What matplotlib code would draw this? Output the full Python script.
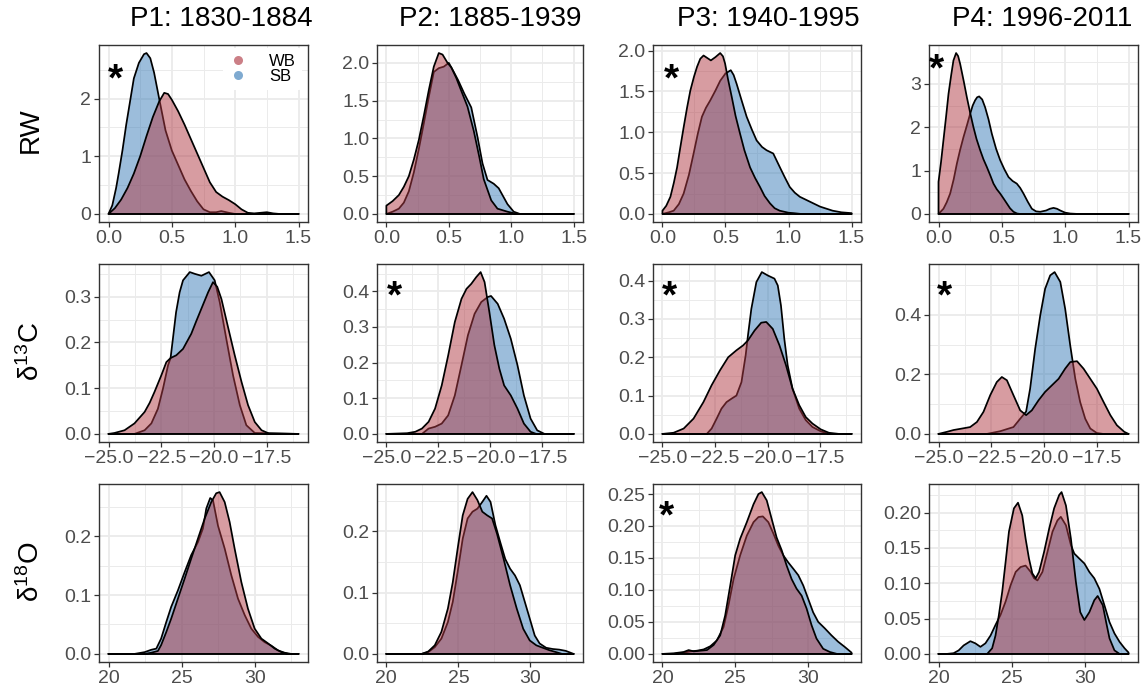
import numpy as np
import matplotlib
matplotlib.use("Agg")
import matplotlib.pyplot as plt
from matplotlib.lines import Line2D
from matplotlib.colors import to_rgba

plt.rcParams['font.family'] = ['Liberation Sans', 'DejaVu Sans']
plt.rcParams['mathtext.fontset'] = 'custom'
plt.rcParams['mathtext.rm'] = 'Liberation Sans'
plt.rcParams['mathtext.it'] = 'Liberation Sans:italic'
plt.rcParams['mathtext.bf'] = 'Liberation Sans:bold'

# ---------------------------------------------------------------------------
# Categories
# ---------------------------------------------------------------------------
periods = ["P1: 1830-1884", "P2: 1885-1939", "P3: 1940-1995", "P4: 1996-2011"]
variables = ["RW", "d13C", "d18O"]
row_labels = ["RW", "δ$^{13}$C", "δ$^{18}$O"]
groups = ["WB", "SB"]

# x range over which each density was evaluated
x_from = [0.0, -25.0, 20.0]
x_to = [1.5, -16.0, 33.0]
x_breaks = [[0.0, 0.5, 1.0, 1.5], [-25.0, -22.5, -20.0, -17.5], [20, 25, 30]]
x_break_labels = [["0.0", "0.5", "1.0", "1.5"],
                  ["\u221225.0", "\u221222.5", "\u221220.0", "\u221217.5"],
                  ["20", "25", "30"]]

# significant WB/SB difference per variable (rows) and period (columns)
significant = [[True, False, True, True],
               [False, True, True, True],
               [False, False, True, False]]

# ---------------------------------------------------------------------------
# Kernel density estimates, (x, density) pairs
# ---------------------------------------------------------------------------
# Ring width (RW)
rw_p1_wb = [(0, 0), (0.05, 0.1), (0.10, 0.25), (0.15, 0.45), (0.20, 0.7), (0.25, 1.0), (0.30, 1.35),
            (0.35, 1.68), (0.40, 1.95), (0.44, 2.1), (0.47, 2.08), (0.50, 1.98), (0.55, 1.78), (0.60, 1.55),
            (0.65, 1.3), (0.70, 1.05), (0.75, 0.8), (0.80, 0.55), (0.85, 0.38), (0.90, 0.3), (0.95, 0.24),
            (1.00, 0.17), (1.05, 0.08), (1.10, 0.02), (1.15, 0.01), (1.20, 0.02), (1.25, 0.03), (1.30, 0.01),
            (1.35, 0.0), (1.5, 0.0)]
rw_p1_sb = [(0, 0), (0.03, 0.15), (0.06, 0.45), (0.08, 0.7), (0.11, 1.1), (0.14, 1.55), (0.17, 1.95),
            (0.20, 2.35), (0.24, 2.62), (0.28, 2.77), (0.30, 2.79), (0.33, 2.7), (0.36, 2.45), (0.40, 2.0),
            (0.45, 1.45), (0.50, 1.1), (0.55, 0.85), (0.60, 0.6), (0.65, 0.4), (0.70, 0.22), (0.75, 0.08),
            (0.80, 0.03), (0.85, 0.03), (0.89, 0.05), (0.95, 0.02), (1.0, 0.0), (1.5, 0.0)]
rw_p2_wb = [(0, 0.11), (0.05, 0.17), (0.10, 0.25), (0.14, 0.36), (0.18, 0.5), (0.22, 0.72), (0.26, 0.98),
            (0.30, 1.3), (0.34, 1.64), (0.38, 1.95), (0.42, 2.13), (0.45, 2.11), (0.49, 2.0), (0.52, 1.94),
            (0.56, 1.8), (0.60, 1.63), (0.65, 1.42), (0.70, 1.1), (0.745, 0.75), (0.78, 0.46), (0.84, 0.18),
            (0.89, 0.07), (0.97, 0.03), (1.02, 0.01), (1.06, 0.0), (1.5, 0.0)]
rw_p2_sb = [(0, 0.0), (0.05, 0.03), (0.10, 0.07), (0.14, 0.15), (0.18, 0.3), (0.22, 0.55), (0.26, 0.86),
            (0.30, 1.2), (0.34, 1.55), (0.38, 1.88), (0.42, 1.93), (0.46, 1.95), (0.50, 2.0), (0.54, 1.88),
            (0.575, 1.77), (0.625, 1.59), (0.68, 1.41), (0.73, 1.02), (0.77, 0.67), (0.81, 0.45), (0.86, 0.4),
            (0.90, 0.34), (0.94, 0.22), (0.97, 0.13), (1.02, 0.03), (1.07, 0.0), (1.5, 0.0)]
rw_p3_wb = [(0, 0.04), (0.03, 0.1), (0.063, 0.21), (0.09, 0.38), (0.116, 0.57), (0.14, 0.8), (0.168, 1.06),
            (0.195, 1.3), (0.221, 1.51), (0.25, 1.68), (0.274, 1.8), (0.30, 1.9), (0.326, 1.94), (0.355, 1.91),
            (0.384, 1.88), (0.42, 1.92), (0.458, 1.97), (0.48, 1.93), (0.497, 1.84), (0.52, 1.65), (0.55, 1.43),
            (0.58, 1.2), (0.616, 0.98), (0.65, 0.78), (0.695, 0.57), (0.735, 0.44), (0.774, 0.33), (0.81, 0.22),
            (0.853, 0.13), (0.89, 0.07), (0.93, 0.04), (1.0, 0.015), (1.04, 0.01), (1.1, 0.0), (1.5, 0.0)]
rw_p3_sb = [(0, 0.0), (0.05, 0.02), (0.089, 0.04), (0.13, 0.12), (0.168, 0.25), (0.21, 0.48), (0.247, 0.74),
            (0.28, 0.98), (0.313, 1.19), (0.345, 1.3), (0.379, 1.39), (0.42, 1.51), (0.458, 1.63), (0.50, 1.72),
            (0.542, 1.76), (0.565, 1.7), (0.589, 1.59), (0.63, 1.38), (0.668, 1.19), (0.71, 1.03), (0.747, 0.9),
            (0.79, 0.82), (0.826, 0.78), (0.879, 0.74), (0.932, 0.57), (0.97, 0.45), (1.01, 0.33), (1.05, 0.26),
            (1.09, 0.21), (1.17, 0.15), (1.25, 0.09), (1.35, 0.04), (1.42, 0.02), (1.5, 0.01)]
rw_p4_wb = [(0, 0.74), (0.02, 1.2), (0.039, 1.7), (0.06, 2.25), (0.079, 2.77), (0.10, 3.2), (0.118, 3.54),
            (0.139, 3.71), (0.155, 3.64), (0.171, 3.46), (0.20, 3.05), (0.224, 2.69), (0.25, 2.33), (0.276, 2.0),
            (0.30, 1.73), (0.329, 1.47), (0.355, 1.26), (0.382, 1.08), (0.41, 0.88), (0.434, 0.7), (0.46, 0.57),
            (0.487, 0.47), (0.515, 0.35), (0.54, 0.24), (0.565, 0.13), (0.592, 0.05), (0.62, 0.01), (0.645, 0.0),
            (1.5, 0.0)]
rw_p4_sb = [(0, 0.0), (0.039, 0.12), (0.065, 0.27), (0.092, 0.47), (0.12, 0.8), (0.145, 1.16), (0.17, 1.47),
            (0.197, 1.77), (0.225, 2.05), (0.25, 2.31), (0.27, 2.5), (0.289, 2.62), (0.305, 2.69), (0.321, 2.71),
            (0.345, 2.64), (0.368, 2.46), (0.395, 2.18), (0.421, 1.85), (0.455, 1.5), (0.487, 1.24), (0.52, 1.03),
            (0.553, 0.85), (0.585, 0.76), (0.618, 0.7), (0.645, 0.6), (0.671, 0.47), (0.705, 0.28), (0.737, 0.12),
            (0.77, 0.06), (0.803, 0.05), (0.85, 0.08), (0.88, 0.12), (0.908, 0.14), (0.935, 0.12), (0.961, 0.08),
            (1.0, 0.03), (1.04, 0.01), (1.1, 0.0), (1.5, 0.0)]

# Carbon isotope ratio (d13C)
c13_p1_wb = [(-25, 0), (-24.72, 0.002), (-24.24, 0.008), (-23.77, 0.023), (-23.29, 0.048), (-23.05, 0.068),
             (-22.82, 0.092), (-22.5, 0.128), (-22.26, 0.157), (-22.06, 0.166), (-21.79, 0.172), (-21.47, 0.186),
             (-21.08, 0.219), (-20.84, 0.247), (-20.6, 0.274), (-20.28, 0.31), (-20.05, 0.332), (-19.85, 0.322),
             (-19.65, 0.295), (-19.34, 0.234), (-19.02, 0.172), (-18.7, 0.114), (-18.39, 0.063), (-18.07, 0.026),
             (-17.75, 0.008), (-17.4, 0.001), (-16, 0)]
c13_p1_sb = [(-25, 0), (-23.77, 0.0), (-23.29, 0.008), (-22.97, 0.023), (-22.66, 0.055), (-22.42, 0.099),
             (-22.18, 0.15), (-22.06, 0.166), (-21.95, 0.208), (-21.8, 0.266), (-21.63, 0.31), (-21.47, 0.336),
             (-21.15, 0.354), (-20.9, 0.35), (-20.6, 0.346), (-20.24, 0.354), (-19.97, 0.336), (-19.73, 0.288),
             (-19.42, 0.208), (-19.1, 0.128), (-18.78, 0.063), (-18.47, 0.019), (-18.07, 0.002), (-16, 0)]
c13_p2_wb = [(-25, 0), (-24.0, 0.002), (-23.61, 0.006), (-23.29, 0.015), (-22.97, 0.034), (-22.66, 0.071),
             (-22.34, 0.136), (-22.03, 0.22), (-21.71, 0.314), (-21.39, 0.379), (-21.15, 0.407), (-20.92, 0.421),
             (-20.68, 0.44), (-20.47, 0.454), (-20.28, 0.426), (-20.05, 0.342), (-19.81, 0.249), (-19.57, 0.183),
             (-19.34, 0.136), (-19.02, 0.108), (-18.7, 0.071), (-18.39, 0.029), (-18.07, 0.006), (-17.8, 0),
             (-16, 0)]
c13_p2_sb = [(-25, 0), (-23.29, 0.0), (-22.97, 0.015), (-22.66, 0.02), (-22.34, 0.029), (-22.03, 0.052),
             (-21.71, 0.108), (-21.39, 0.193), (-21.08, 0.277), (-20.76, 0.337), (-20.44, 0.37), (-20.13, 0.384),
             (-19.97, 0.387), (-19.65, 0.365), (-19.34, 0.323), (-19.02, 0.267), (-18.7, 0.193), (-18.39, 0.108),
             (-18.07, 0.043), (-17.75, 0.01), (-17.4, 0), (-16, 0)]
c13_p3_wb = [(-25, 0), (-24.47, 0.003), (-23.99, 0.014), (-23.52, 0.04), (-23.05, 0.083), (-22.66, 0.127),
             (-22.26, 0.166), (-21.87, 0.2), (-21.48, 0.218), (-21.16, 0.231), (-20.93, 0.244), (-20.61, 0.27),
             (-20.3, 0.29), (-20.06, 0.292), (-19.75, 0.274), (-19.43, 0.231), (-19.12, 0.179), (-18.81, 0.118),
             (-18.49, 0.075), (-18.18, 0.044), (-17.86, 0.027), (-17.47, 0.012), (-17.08, 0.003), (-16.6, 0),
             (-16, 0)]
c13_p3_sb = [(-25, 0), (-22.89, 0.0), (-22.66, 0.014), (-22.42, 0.04), (-22.19, 0.066), (-21.95, 0.083),
             (-21.71, 0.092), (-21.48, 0.1), (-21.24, 0.135), (-21.04, 0.205), (-20.93, 0.257), (-20.77, 0.326),
             (-20.53, 0.396), (-20.27, 0.422), (-19.98, 0.413), (-19.67, 0.405), (-19.51, 0.387), (-19.36, 0.335),
             (-19.2, 0.248), (-19.04, 0.179), (-18.81, 0.118), (-18.49, 0.066), (-18.18, 0.036), (-17.86, 0.018),
             (-17.47, 0.007), (-17.08, 0), (-16, 0)]
c13_p4_wb = [(-25, 0), (-24.6, 0.007), (-24.29, 0.013), (-23.89, 0.018), (-23.5, 0.023), (-23.18, 0.04),
             (-22.87, 0.074), (-22.55, 0.13), (-22.24, 0.174), (-22.0, 0.191), (-21.76, 0.18), (-21.45, 0.13),
             (-21.13, 0.079), (-20.85, 0.063), (-20.58, 0.079), (-20.26, 0.113), (-19.95, 0.141), (-19.63, 0.163),
             (-19.31, 0.185), (-19.0, 0.219), (-18.76, 0.241), (-18.44, 0.244), (-18.13, 0.219), (-17.81, 0.185),
             (-17.5, 0.152), (-17.18, 0.107), (-16.86, 0.063), (-16.55, 0.029), (-16.2, 0.007), (-16, 0)]
c13_p4_sb = [(-25, 0), (-22.71, 0.0), (-22.08, 0.009), (-21.45, 0.023), (-21.13, 0.051), (-20.85, 0.075),
             (-20.66, 0.152), (-20.42, 0.286), (-20.18, 0.398), (-19.95, 0.487), (-19.71, 0.532), (-19.5, 0.543),
             (-19.23, 0.51), (-19.0, 0.42), (-18.76, 0.297), (-18.52, 0.185), (-18.29, 0.107), (-18.05, 0.051),
             (-17.81, 0.018), (-17.5, 0.003), (-17.2, 0), (-16, 0)]

# Oxygen isotope ratio (d18O)
o18_p1_wb = [(20, 0), (22.47, 0.0), (22.92, 0.002), (23.38, 0.005), (23.6, 0.015), (23.95, 0.037), (24.29, 0.06),
             (24.75, 0.094), (25.21, 0.128), (25.66, 0.162), (26.12, 0.196), (26.58, 0.23), (27.03, 0.258),
             (27.37, 0.273), (27.6, 0.275), (27.95, 0.258), (28.29, 0.224), (28.63, 0.179), (29.09, 0.122),
             (29.54, 0.077), (30.0, 0.043), (30.46, 0.026), (30.91, 0.018), (31.37, 0.009), (31.83, 0.003),
             (32.3, 0), (33, 0)]
o18_p1_sb = [(20, 0), (21.78, 0.0), (22.47, 0.003), (22.92, 0.007), (23.27, 0.009), (23.6, 0.026), (23.95, 0.054),
             (24.29, 0.08), (24.75, 0.108), (25.21, 0.139), (25.66, 0.168), (26.12, 0.19), (26.46, 0.213),
             (26.69, 0.247), (26.96, 0.265), (27.15, 0.261), (27.49, 0.218), (27.95, 0.179), (28.4, 0.134),
             (28.86, 0.094), (29.32, 0.066), (29.77, 0.043), (30.23, 0.029), (30.68, 0.02), (31.14, 0.014),
             (31.6, 0.006), (32.05, 0.002), (32.5, 0), (33, 0)]
o18_p2_wb = [(20, 0), (22.45, 0.0), (22.91, 0.004), (23.36, 0.014), (23.82, 0.036), (24.27, 0.074), (24.61, 0.117),
             (24.95, 0.172), (25.3, 0.226), (25.64, 0.253), (25.98, 0.264), (26.32, 0.251), (26.66, 0.232),
             (27.0, 0.226), (27.34, 0.221), (27.68, 0.196), (28.14, 0.155), (28.59, 0.112), (29.05, 0.074),
             (29.5, 0.041), (29.95, 0.022), (30.41, 0.014), (30.86, 0.01), (31.32, 0.006), (31.77, 0.003),
             (32.2, 0), (33, 0)]
o18_p2_sb = [(20, 0), (22.45, 0.0), (22.91, 0.003), (23.36, 0.011), (23.82, 0.025), (24.27, 0.052), (24.61, 0.085),
             (24.95, 0.134), (25.3, 0.188), (25.64, 0.221), (25.98, 0.232), (26.32, 0.237), (26.66, 0.248),
             (26.95, 0.258), (27.23, 0.248), (27.57, 0.21), (27.91, 0.182), (28.25, 0.155), (28.59, 0.139),
             (28.93, 0.128), (29.27, 0.112), (29.61, 0.085), (29.95, 0.058), (30.3, 0.03), (30.64, 0.017),
             (31.09, 0.01), (31.55, 0.008), (32.0, 0.007), (32.45, 0.005), (33, 0)]
o18_p3_wb = [(20, 0), (20.78, 0.001), (21.46, 0.003), (21.8, 0.006), (22.15, 0.004), (22.6, 0.005), (23.06, 0.006),
             (23.52, 0.014), (23.97, 0.029), (24.31, 0.06), (24.66, 0.107), (25.0, 0.154), (25.34, 0.18),
             (25.8, 0.206), (26.26, 0.234), (26.6, 0.25), (26.83, 0.253), (27.17, 0.24), (27.51, 0.211),
             (27.85, 0.182), (28.2, 0.162), (28.54, 0.138), (28.88, 0.117), (29.22, 0.102), (29.57, 0.091),
             (29.91, 0.071), (30.25, 0.045), (30.59, 0.024), (31.05, 0.008), (31.51, 0.003), (32.0, 0), (33, 0)]
o18_p3_sb = [(20, 0), (20.78, 0.0), (21.46, 0.002), (21.92, 0.004), (22.37, 0.005), (22.83, 0.007), (23.29, 0.012),
             (23.74, 0.021), (24.2, 0.042), (24.54, 0.076), (24.89, 0.117), (25.34, 0.154), (25.8, 0.185),
             (26.26, 0.206), (26.6, 0.214), (26.9, 0.215), (27.28, 0.206), (27.63, 0.188), (27.97, 0.169),
             (28.31, 0.154), (28.65, 0.143), (29.0, 0.133), (29.34, 0.123), (29.68, 0.107), (30.02, 0.086),
             (30.36, 0.065), (30.71, 0.05), (31.16, 0.04), (31.62, 0.029), (32.08, 0.019), (32.53, 0.011),
             (33.0, 0.002)]
o18_p4_wb = [(20, 0), (23.33, 0.0), (23.67, 0.008), (23.9, 0.026), (24.13, 0.055), (24.36, 0.088), (24.59, 0.13),
             (24.82, 0.173), (25.16, 0.206), (25.44, 0.214), (25.73, 0.196), (25.96, 0.163), (26.19, 0.135),
             (26.42, 0.114), (26.65, 0.107), (26.88, 0.116), (27.22, 0.144), (27.57, 0.177), (27.91, 0.206),
             (28.26, 0.225), (28.42, 0.229), (28.72, 0.21), (29.06, 0.163), (29.4, 0.102), (29.7, 0.059),
             (29.98, 0.048), (30.32, 0.059), (30.66, 0.076), (30.89, 0.082), (31.24, 0.069), (31.47, 0.045),
             (31.7, 0.022), (32.04, 0.005), (32.39, 0.0), (33, 0)]
o18_p4_sb = [(20, 0), (20.57, 0.0), (21.03, 0.001), (21.38, 0.005), (21.72, 0.012), (22.18, 0.018), (22.52, 0.015),
             (22.87, 0.01), (23.21, 0.015), (23.56, 0.026), (23.9, 0.041), (24.24, 0.055), (24.59, 0.074),
             (24.93, 0.097), (25.28, 0.116), (25.62, 0.123), (25.96, 0.125), (26.31, 0.116), (26.54, 0.107),
             (26.77, 0.104), (27.11, 0.116), (27.45, 0.144), (27.8, 0.173), (28.14, 0.189), (28.37, 0.194),
             (28.72, 0.182), (29.06, 0.154), (29.29, 0.142), (29.63, 0.135), (29.98, 0.128), (30.32, 0.116),
             (30.66, 0.107), (31.01, 0.092), (31.35, 0.069), (31.7, 0.045), (32.04, 0.029), (32.39, 0.017),
             (32.73, 0.008), (33.0, 0.002)]

densities = {
    "RW": [(rw_p1_wb, rw_p1_sb), (rw_p2_wb, rw_p2_sb), (rw_p3_wb, rw_p3_sb), (rw_p4_wb, rw_p4_sb)],
    "d13C": [(c13_p1_wb, c13_p1_sb), (c13_p2_wb, c13_p2_sb), (c13_p3_wb, c13_p3_sb), (c13_p4_wb, c13_p4_sb)],
    "d18O": [(o18_p1_wb, o18_p1_sb), (o18_p2_wb, o18_p2_sb), (o18_p3_wb, o18_p3_sb), (o18_p4_wb, o18_p4_sb)],
}

# y break spacing for each panel
y_step = [[1, 0.5, 0.5, 1],
          [0.1, 0.1, 0.1, 0.2],
          [0.1, 0.1, 0.05, 0.05]]

# ---------------------------------------------------------------------------
# Style
# ---------------------------------------------------------------------------
fill_colors = {"WB": "#B03A45", "SB": "#3A7DB8"}
fill_alpha = 0.5
W, H = 1145, 692
col_px = [(99, 308), (377, 583), (653, 861), (929, 1138)]
row_px = [(45, 222), (264, 442), (484, 662)]
title_px = [221, 490, 768, 1042]
star_pos = [[(0.077, 0.80), None, (0.087, 0.80), (0.038, 0.855)],
            [None, (0.083, 0.81), (0.077, 0.81), (0.072, 0.81)],
            [None, None, (0.067, 0.81), None]]

grid_col = "#EBEBEB"
axis_col = "#333333"
tick_lab_col = "#4D4D4D"

fig = plt.figure(figsize=(W / 100, H / 100), dpi=100)


def decimals(step):
    s = f"{step:g}"
    return len(s.split(".")[1]) if "." in s else 0


for r, var in enumerate(variables):
    lo, hi = x_from[r], x_to[r]
    span = hi - lo
    xlim = (lo - 0.05 * span, hi + 0.05 * span)
    xb = np.array(x_breaks[r], dtype=float)
    xstep = xb[1] - xb[0]
    x_minor = [v for v in np.arange(xb[0] - xstep / 2, xlim[1], xstep) if xlim[0] < v < xlim[1]]
    for c in range(4):
        x0, x1 = col_px[c]
        y0, y1 = row_px[r]
        ax = fig.add_axes([x0 / W, 1 - y1 / H, (x1 - x0) / W, (y1 - y0) / H])
        wb, sb = densities[var][c]
        ymax = max(max(p[1] for p in wb), max(p[1] for p in sb))
        ylim = (-0.05 * ymax, 1.05 * ymax)
        step = y_step[r][c]
        yb = np.arange(0, ylim[1] + 1e-9, step)
        y_minor = [v for v in np.arange(step / 2, ylim[1], step)]

        ax.set_xlim(*xlim)
        ax.set_ylim(*ylim)
        for v in x_minor:
            ax.axvline(v, color=grid_col, lw=0.7, zorder=0)
        for v in y_minor:
            ax.axhline(v, color=grid_col, lw=0.7, zorder=0)
        for v in xb:
            ax.axvline(v, color=grid_col, lw=1.3, zorder=0)
        for v in yb:
            ax.axhline(v, color=grid_col, lw=1.3, zorder=0)

        # SB first, WB on top
        for name, pts in (("SB", sb), ("WB", wb)):
            xs = [p[0] for p in pts]
            ys = [p[1] for p in pts]
            px = xs + [xs[-1], xs[0]]
            py = ys + [0.0, 0.0]
            ax.fill(px, py, facecolor=to_rgba(fill_colors[name], fill_alpha),
                    edgecolor="black", lw=1.25, joinstyle="round", zorder=2)

        ax.set_xticks(xb)
        ax.set_xticklabels(x_break_labels[r])
        dec = decimals(step)
        ax.set_yticks(yb)
        ax.set_yticklabels([f"{v:.{dec}f}" for v in yb])
        ax.tick_params(axis="both", length=3.5, width=0.9, color=axis_col,
                       labelcolor=tick_lab_col, labelsize=14, pad=2)
        for sp in ax.spines.values():
            sp.set_color(axis_col)
            sp.set_linewidth(1.0)
            sp.set_zorder(5)

        if significant[r][c]:
            sx, sy = star_pos[r][c]
            ax.text(sx, sy, "*", transform=ax.transAxes, ha="center", va="center",
                    fontsize=28, fontweight="bold", color="black", zorder=6)

        if r == 0 and c == 0:
            handles = [Line2D([], [], ls="", marker="o", ms=6.5, mec="none",
                              mfc=to_rgba(fill_colors[g], fill_alpha * 1.3)) for g in groups]
            ax.legend(handles, groups, loc="upper right", bbox_to_anchor=(0.971, 0.983),
                      frameon=True, facecolor="white", edgecolor="none", framealpha=1,
                      fontsize=12, handlelength=1.0, handletextpad=1.4, labelspacing=0.0,
                      borderpad=0.35, borderaxespad=0)

for c, t in enumerate(periods):
    fig.text(title_px[c] / W, 1 - 19 / H, t, ha="center", va="center", fontsize=20, color="black")

row_center = [130, 352, 572]
for r, lab in enumerate(row_labels):
    fig.text(31 / W, 1 - row_center[r] / H, lab, ha="center", va="center", rotation=90,
             fontsize=20, color="black")

fig.savefig("out.png", dpi=100)
